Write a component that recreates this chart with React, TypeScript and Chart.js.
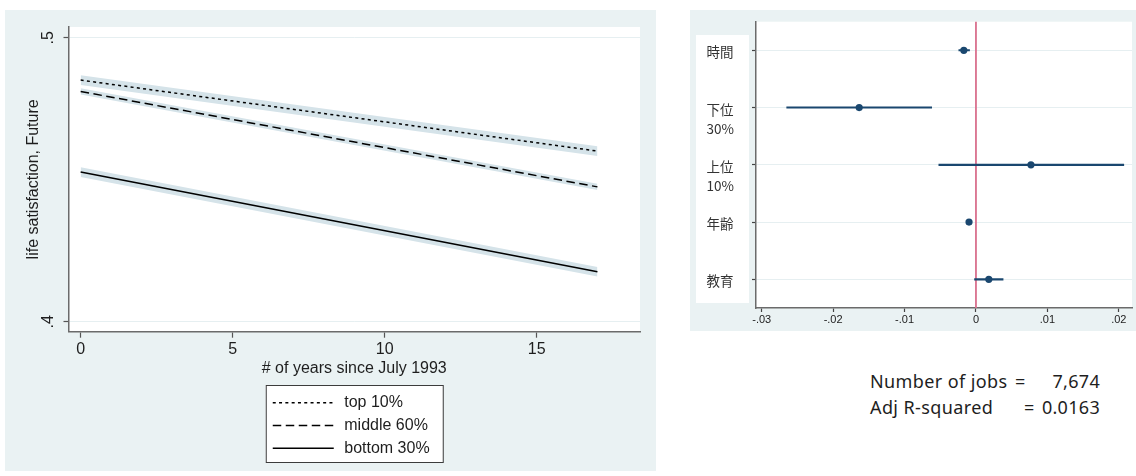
import React, { useEffect, useRef } from 'react';
import { Chart, registerables } from 'chart.js';
Chart.register(...registerables);

// ---------- Left panel data ----------
const years = [0, 17];
const top10 = [0.4851, 0.4601];
const top10Lo = [0.4834, 0.4584];
const top10Hi = [0.4868, 0.4618];
const mid60 = [0.4811, 0.4475];
const mid60Lo = [0.4800, 0.4464];
const mid60Hi = [0.4822, 0.4486];
const bot30 = [0.4527, 0.4176];
const bot30Lo = [0.4510, 0.4159];
const bot30Hi = [0.4544, 0.4193];
const xTicksLeft = [0, 5, 10, 15];
const yTicksLeft = [0.4, 0.5];
const legendLabels = ['top 10%', 'middle 60%', 'bottom 30%'];
const xTitleLeft = '# of years since July 1993';
const yTitleLeft = 'life satisfaction, Future';

// ---------- Right panel data ----------
const coefLabels = [['時間'], ['下位', '30%'], ['上位', '10%'], ['年齢'], ['教育']];
const coefEst = [-0.0017, -0.01635, 0.0077, -0.00097, 0.0018];
const coefLo = [-0.0024, -0.0265, -0.0052, -0.0012, -0.0002];
const coefHi = [-0.0009, -0.0062, 0.0207, -0.0007, 0.0038];
const xTicksRight = [-0.03, -0.02, -0.01, 0, 0.01, 0.02];
const statLabels = ['Number of jobs', 'Adj R-squared'];
const statValues = ['7,674', '0.0163'];

const BG = '#eaf2f3';
const BAND = '#d5e3e9';
const NAVY = '#1a476f';
const AXIS = '#6b6b6b';
const LATIN = '"Liberation Sans", Arial, Helvetica, sans-serif';
const CJK = '"Noto Sans CJK JP", "Noto Sans", sans-serif';
const STATFONT = '"Noto Sans", "Noto Sans CJK JP", sans-serif';

const pts = (ys: number[]) => years.map((x, i) => ({ x, y: ys[i] }));

function LeftChart() {
  const ref = useRef<HTMLCanvasElement>(null);
  useEffect(() => {
    const bgPlugin = {
      id: 'bgLeft',
      beforeDraw(chart: any) {
        const { ctx, chartArea: a, width, height } = chart;
        ctx.save();
        ctx.fillStyle = BG;
        ctx.fillRect(0, 0, width, height);
        ctx.fillStyle = '#ffffff';
        ctx.fillRect(a.left, a.top, a.right - a.left, a.bottom - a.top);
        ctx.restore();
      },
    };
    const textPlugin = {
      id: 'textLeft',
      afterDraw(chart: any) {
        const { ctx, chartArea: a, scales } = chart;
        ctx.save();
        ctx.fillStyle = '#1e1e1e';
        ctx.font = `16px ${LATIN}`;
        ctx.textAlign = 'center';
        ctx.textBaseline = 'middle';
        scales.x.ticks.forEach((t: any) => {
          ctx.fillText(String(t.value), scales.x.getPixelForValue(t.value), a.bottom + 17.5);
        });
        ctx.fillText(xTitleLeft, (a.left + a.right) / 2, a.bottom + 36.5);
        scales.y.ticks.forEach((t: any) => {
          const y = scales.y.getPixelForValue(t.value);
          ctx.save();
          ctx.translate(a.left - 20, y);
          ctx.rotate(-Math.PI / 2);
          ctx.fillText(String(t.value).replace(/^0/, ''), 0, 0);
          ctx.restore();
        });
        ctx.save();
        ctx.translate(a.left - 35, (a.top + a.bottom) / 2);
        ctx.rotate(-Math.PI / 2);
        ctx.fillText(yTitleLeft, 0, 0);
        ctx.restore();
        // legend
        const bw = 177, bh = 77;
        const bx = (a.left + a.right) / 2 - bw / 2;
        const by = a.bottom + 53.3;
        ctx.fillStyle = '#ffffff';
        ctx.fillRect(bx, by, bw, bh);
        ctx.strokeStyle = '#3c3c3c';
        ctx.lineWidth = 1;
        ctx.strokeRect(bx + 0.5, by + 0.5, bw, bh);
        const lineDs = chart.data.datasets.filter((d: any) => d.isMain);
        lineDs.forEach((d: any, i: number) => {
          const yy = by + 17.7 + i * 22.8;
          ctx.save();
          ctx.strokeStyle = d.borderColor;
          ctx.lineWidth = d.borderWidth;
          ctx.setLineDash(d.borderDash || []);
          ctx.beginPath();
          ctx.moveTo(bx + 7, yy);
          ctx.lineTo(bx + 68, yy);
          ctx.stroke();
          ctx.restore();
          ctx.fillStyle = '#1e1e1e';
          ctx.textAlign = 'left';
          ctx.fillText(legendLabels[i], bx + 78.5, yy);
        });
        ctx.restore();
      },
    };
    const chart = new Chart(ref.current as HTMLCanvasElement, {
      type: 'line',
      data: {
        datasets: [
          { label: legendLabels[0], isMain: true, data: pts(top10), borderColor: '#000', borderWidth: 1.5, borderDash: [3, 3.3], pointRadius: 0, fill: false, order: 0 } as any,
          { label: legendLabels[1], isMain: true, data: pts(mid60), borderColor: '#000', borderWidth: 1.5, borderDash: [8.5, 4.5], pointRadius: 0, fill: false, order: 0 } as any,
          { label: legendLabels[2], isMain: true, data: pts(bot30), borderColor: '#000', borderWidth: 1.5, pointRadius: 0, fill: false, order: 0 } as any,
          { data: pts(top10Hi), borderWidth: 0, pointRadius: 0, backgroundColor: BAND, fill: '+1', order: 1 },
          { data: pts(top10Lo), borderWidth: 0, pointRadius: 0, fill: false, order: 1 },
          { data: pts(mid60Hi), borderWidth: 0, pointRadius: 0, backgroundColor: BAND, fill: '+1', order: 1 },
          { data: pts(mid60Lo), borderWidth: 0, pointRadius: 0, fill: false, order: 1 },
          { data: pts(bot30Hi), borderWidth: 0, pointRadius: 0, backgroundColor: BAND, fill: '+1', order: 1 },
          { data: pts(bot30Lo), borderWidth: 0, pointRadius: 0, fill: false, order: 1 },
        ],
      },
      options: {
        animation: false,
        responsive: false,
        maintainAspectRatio: false,
        layout: { padding: { top: 17, right: 16, left: 0, bottom: 0 } },
        plugins: { legend: { display: false }, tooltip: { enabled: false } },
        scales: {
          x: {
            type: 'linear',
            min: -0.4,
            max: 18.4,
            afterBuildTicks: (s: any) => { s.ticks = xTicksLeft.map((v) => ({ value: v })); },
            afterFit: (s: any) => { s.height = 139.3; },
            grid: { drawOnChartArea: false, drawTicks: true, tickLength: 6, tickColor: '#555', tickWidth: 1.2 },
            border: { display: true, color: AXIS, width: 1.5 },
            ticks: { display: false },
          },
          y: {
            type: 'linear',
            min: 0.3965,
            max: 0.5038,
            afterBuildTicks: (s: any) => { s.ticks = yTicksLeft.map((v) => ({ value: v })); },
            afterFit: (s: any) => { s.width = 63.5; },
            grid: { color: '#e6eff1', lineWidth: 1, drawTicks: true, tickLength: 5, tickColor: '#555', tickWidth: 1.2 },
            border: { display: true, color: AXIS, width: 1.5 },
            ticks: { display: false },
          },
        },
      } as any,
      plugins: [bgPlugin, textPlugin],
    });
    return () => chart.destroy();
  }, []);
  return <canvas ref={ref} width={651} height={461} style={{ position: 'absolute', left: 5, top: 10, width: 651, height: 461 }} />;
}

function RightChart() {
  const ref = useRef<HTMLCanvasElement>(null);
  useEffect(() => {
    const bgPlugin = {
      id: 'bgRight',
      beforeDraw(chart: any) {
        const { ctx, chartArea: a, width, height } = chart;
        ctx.save();
        ctx.fillStyle = BG;
        ctx.fillRect(0, 0, width, height);
        ctx.fillStyle = '#ffffff';
        ctx.fillRect(a.left, a.top, a.right - a.left, a.bottom - a.top);
        ctx.fillRect(a.left - 60, 25, 53, 268);
        ctx.restore();
      },
    };
    const zeroPlugin = {
      id: 'zeroLine',
      beforeDatasetsDraw(chart: any) {
        const { ctx, chartArea: a, scales } = chart;
        const x = scales.x.getPixelForValue(0);
        ctx.save();
        ctx.strokeStyle = '#d9708d';
        ctx.lineWidth = 1.8;
        ctx.beginPath();
        ctx.moveTo(x, a.top);
        ctx.lineTo(x, a.bottom);
        ctx.stroke();
        ctx.restore();
      },
    };
    const textPlugin = {
      id: 'textRight',
      afterDraw(chart: any) {
        const { ctx, chartArea: a, scales } = chart;
        ctx.save();
        ctx.fillStyle = '#333';
        ctx.textBaseline = 'middle';
        ctx.textAlign = 'left';
        ctx.font = `13.5px ${CJK}`;
        (chart.data.labels as string[][]).forEach((lab, i) => {
          const y = scales.y.getPixelForValue(i);
          lab.forEach((line, j) => ctx.fillText(line, 16.5, y + 2 + j * 19.5));
        });
        ctx.font = `11px ${LATIN}`;
        ctx.textAlign = 'center';
        ctx.fillStyle = '#222';
        scales.x.ticks.forEach((t: any) => {
          const v = t.value;
          const s = Math.abs(v) < 1e-9 ? '0' : (v < 0 ? '-' : '') + Math.abs(v).toFixed(2).replace(/^0/, '');
          ctx.fillText(s, scales.x.getPixelForValue(v), a.bottom + 12);
        });
        ctx.restore();
      },
    };
    const chart = new Chart(ref.current as HTMLCanvasElement, {
      type: 'bar',
      data: {
        labels: coefLabels as any,
        datasets: [
          {
            type: 'line',
            indexAxis: 'y',
            data: coefEst,
            showLine: false,
            pointRadius: 3.6,
            pointBackgroundColor: NAVY,
            pointBorderColor: NAVY,
            pointBorderWidth: 0,
            order: 0,
          } as any,
          {
            type: 'bar',
            indexAxis: 'y',
            data: coefLo.map((lo, i) => [lo, coefHi[i]]),
            backgroundColor: NAVY,
            borderWidth: 0,
            barThickness: 1.4,
            order: 1,
          } as any,
        ],
      },
      options: {
        indexAxis: 'y',
        animation: false,
        responsive: false,
        maintainAspectRatio: false,
        layout: { padding: { top: 11.7, right: 1, left: 0, bottom: 0 } },
        plugins: { legend: { display: false }, tooltip: { enabled: false } },
        scales: {
          x: {
            type: 'linear',
            min: -0.0308,
            max: 0.02185,
            afterBuildTicks: (s: any) => { s.ticks = xTicksRight.map((v) => ({ value: v })); },
            afterFit: (s: any) => { s.height = 23; },
            grid: { drawOnChartArea: false, drawTicks: true, tickLength: 4, tickColor: '#444', tickWidth: 1.2 },
            border: { display: true, color: AXIS, width: 1.5 },
            ticks: { display: false },
          },
          y: {
            type: 'category',
            offset: true,
            afterFit: (s: any) => { s.width = 66; },
            grid: { offset: false, color: '#e6eff1', lineWidth: 1, drawTicks: true, tickLength: 4, tickColor: '#444', tickWidth: 1.2 },
            border: { display: true, color: AXIS, width: 1.5 },
            ticks: { display: false },
          },
        },
      } as any,
      plugins: [bgPlugin, zeroPlugin, textPlugin],
    });
    return () => chart.destroy();
  }, []);
  return <canvas ref={ref} width={446} height={321} style={{ position: 'absolute', left: 690, top: 10, width: 446, height: 321 }} />;
}

export default function App() {
  const stat: React.CSSProperties = {
    position: 'absolute',
    fontFamily: STATFONT,
    fontSize: 18,
    lineHeight: '20px',
    color: '#1e1e1e',
    whiteSpace: 'pre',
  };
  const lab: React.CSSProperties = { ...stat, letterSpacing: '0.4px' };
  const val: React.CSSProperties = { ...stat, letterSpacing: '0.3px', textAlign: 'right' };
  return (
    <div style={{ position: 'fixed', left: 0, top: 0, width: 1136, height: 476, background: '#fff', overflow: 'hidden' }}>
      <LeftChart />
      <RightChart />
      <div style={{ ...lab, left: 870, top: 371 }}>{statLabels[0]}</div>
      <div style={{ ...stat, left: 1015, top: 371 }}>=</div>
      <div style={{ ...val, right: 1136 - 1100, top: 371 }}>{statValues[0]}</div>
      <div style={{ ...lab, left: 870, top: 397 }}>{statLabels[1]}</div>
      <div style={{ ...stat, left: 1024, top: 397 }}>=</div>
      <div style={{ ...val, right: 1136 - 1100, top: 397 }}>{statValues[1]}</div>
    </div>
  );
}
